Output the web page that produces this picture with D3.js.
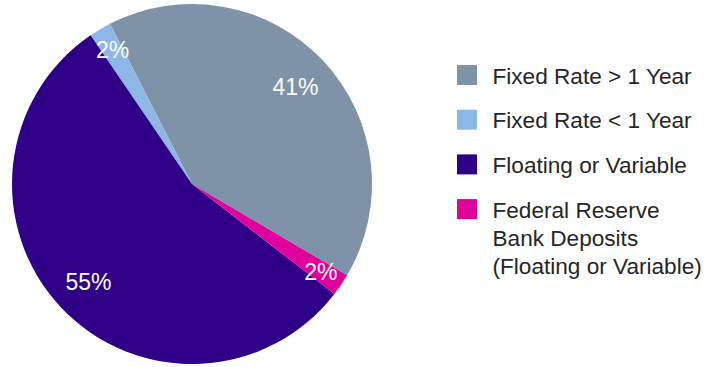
<!DOCTYPE html>
<html>
<head>
<meta charset="utf-8">
<script src="https://cdn.jsdelivr.net/npm/d3@7/dist/d3.min.js"></script>
<style>
  html, body { margin: 0; padding: 0; background: #ffffff; }
  svg { display: block; }
  text { font-family: "Liberation Sans", Arial, Helvetica, sans-serif; }
</style>
</head>
<body>
<svg id="chart" width="707" height="367"></svg>
<script>
// Portfolio composition by rate type (percent of total)
const categories = [
  "Fixed Rate > 1 Year",
  "Fixed Rate < 1 Year",
  "Floating or Variable",
  "Federal Reserve Bank Deposits (Floating or Variable)"
];
const shares = [41, 2, 55, 2];
const legendLines = [
  ["Fixed Rate > 1 Year"],
  ["Fixed Rate < 1 Year"],
  ["Floating or Variable"],
  ["Federal Reserve", "Bank Deposits", "(Floating or Variable)"]
];
const colors = ["#7f93a8", "#8cb7e7", "#2f0087", "#e0009b"];

const svg = d3.select("#chart");
const cx = 192, cy = 184, radius = 180;

const color = d3.scaleOrdinal().domain(categories).range(colors);

const data = categories.map((c, i) => ({ name: c, value: shares[i] }));

// Slices run counter-clockwise from the lower-right edge of the first slice
const start = 120.5 * Math.PI / 180;
const pie = d3.pie()
  .sort(null)
  .value(d => d.value)
  .startAngle(start)
  .endAngle(start - 2 * Math.PI);

const arcs = pie(data);
const arc = d3.arc().innerRadius(0).outerRadius(radius);

const g = svg.append("g").attr("transform", `translate(${cx},${cy})`);

g.selectAll("path.slice")
  .data(arcs)
  .join("path")
  .attr("class", "slice")
  .attr("d", arc)
  .attr("fill", d => color(d.data.name));

// Value labels: thin slices get their label nearer the rim
g.selectAll("text.value")
  .data(arcs)
  .join("text")
  .attr("class", "value")
  .attr("transform", d => {
    const span = Math.abs(d.endAngle - d.startAngle);
    const r = span < 0.3 ? radius * 0.865 : radius * 0.79;
    const a = (d.startAngle + d.endAngle) / 2;
    return `translate(${Math.sin(a) * r},${-Math.cos(a) * r})`;
  })
  .attr("text-anchor", "middle")
  .attr("dy", "0.36em")
  .attr("fill", "#ffffff")
  .attr("font-size", 23)
  .text(d => d3.format("d")(d.data.value) + "%");

// Legend
const legend = svg.append("g").attr("transform", "translate(457,65)");

const item = legend.selectAll("g.item")
  .data(categories)
  .join("g")
  .attr("class", "item")
  .attr("transform", (d, i) => `translate(0,${i * 44.7})`);

item.append("rect")
  .attr("width", 20)
  .attr("height", 20)
  .attr("fill", d => color(d));

item.append("text")
  .attr("x", 35.5)
  .attr("y", 18.5)
  .attr("fill", "#262626")
  .attr("font-size", 22.6)
  .selectAll("tspan")
  .data((d, i) => legendLines[i])
  .join("tspan")
  .attr("x", 35.5)
  .attr("dy", (d, j) => j === 0 ? 0 : 28.3)
  .text(d => d);
</script>
</body>
</html>
